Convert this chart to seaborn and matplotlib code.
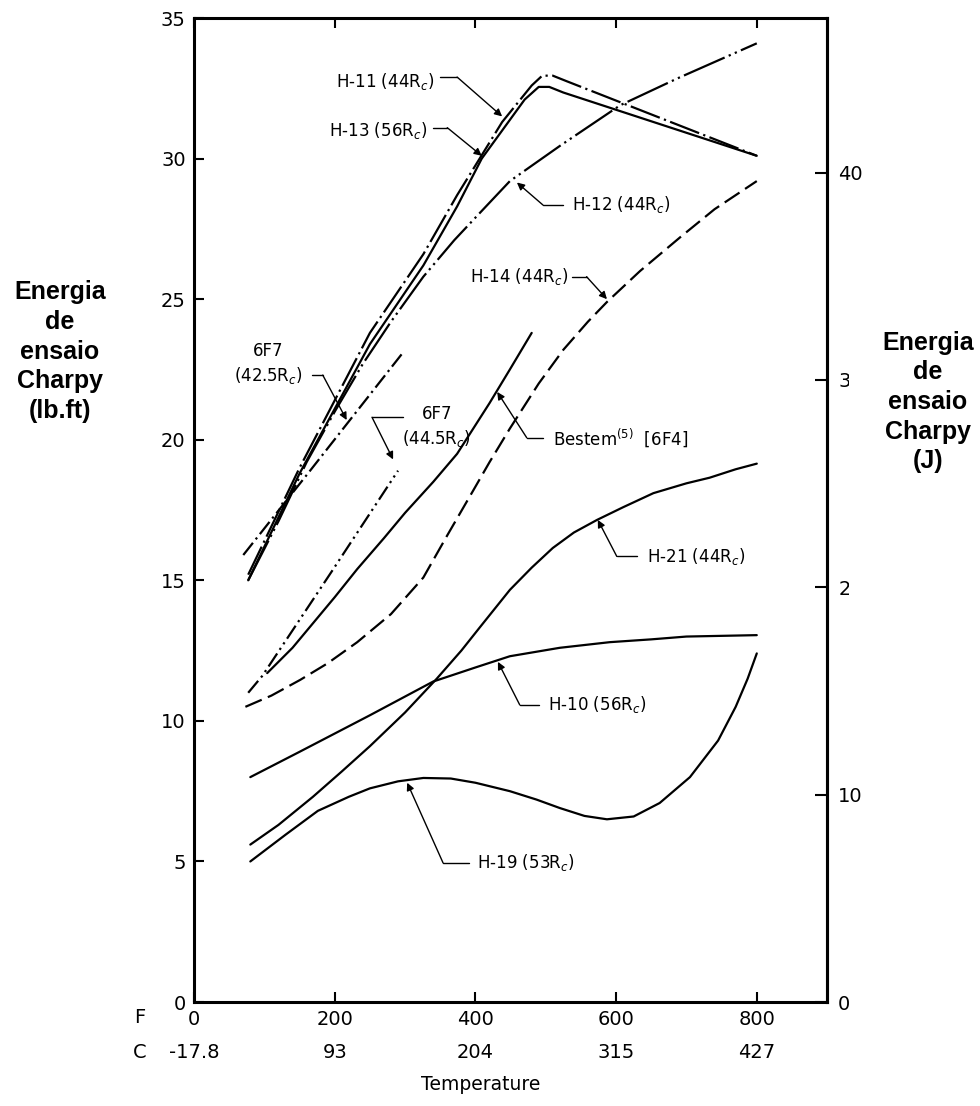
import pandas as pd
import numpy as np
import matplotlib
matplotlib.use("Agg")
import matplotlib.pyplot as plt
from matplotlib.patches import Rectangle
import seaborn as sns

# =============================================
# 1. Dados (temperatura em F, energia em lb.ft)
# =============================================
h11_f = [77, 150, 250, 326, 374, 438, 480, 495, 510, 530, 800]
h11_e = [15.2, 19.0, 23.8, 26.6, 28.7, 31.3, 32.6, 32.95, 32.95, 32.75, 30.1]

h13_f = [77, 150, 250, 326, 374, 409, 470, 490, 505, 525, 800]
h13_e = [15.0, 18.8, 23.4, 26.2, 28.3, 30.0, 32.1, 32.55, 32.55, 32.35, 30.1]

h12_f = [77, 120, 160, 200, 240, 280, 326, 370, 400, 449, 520, 606, 687, 800]
h12_e = [15.0, 17.1, 19.2, 21.0, 22.7, 24.2, 25.8, 27.1, 27.9, 29.2, 30.45, 31.9, 32.85, 34.1]

h14_f = [73, 110, 151, 190, 232, 280, 326, 360, 397, 420, 449, 490, 525, 560, 587, 634, 691, 740, 800]
h14_e = [10.5, 10.9, 11.46, 12.05, 12.8, 13.8, 15.1, 16.6, 18.2, 19.2, 20.4, 22.0, 23.2, 24.2,
         24.9, 26.0, 27.2, 28.2, 29.2]

f42_f = [70, 165, 297]
f42_e = [15.9, 18.9, 23.1]

f44_f = [77, 97, 198, 290]
f44_e = [11.0, 11.6, 15.4, 18.9]

bestem_f = [104, 140, 170, 200, 232, 270, 300, 340, 374, 397, 420, 449, 480]
bestem_e = [11.7, 12.6, 13.5, 14.4, 15.4, 16.5, 17.4, 18.5, 19.5, 20.4, 21.3, 22.5, 23.8]

h21_f = [80, 120, 169, 210, 250, 300, 345, 380, 407, 449, 480, 510, 540, 573, 610, 653, 700,
         733, 770, 800]
h21_e = [5.6, 6.3, 7.3, 8.2, 9.1, 10.3, 11.5, 12.5, 13.35, 14.66, 15.45, 16.15, 16.7, 17.15,
         17.6, 18.1, 18.45, 18.65, 18.95, 19.15]

h10_f = [80, 150, 250, 340, 400, 449, 520, 591, 650, 700, 800]
h10_e = [8.0, 8.9, 10.2, 11.4, 11.9, 12.3, 12.6, 12.8, 12.9, 13.0, 13.05]

h19_f = [80, 130, 176, 220, 250, 290, 326, 365, 400, 449, 487, 520, 555, 587, 625, 662, 705,
         745, 770, 787, 800]
h19_e = [5.0, 5.95, 6.8, 7.3, 7.6, 7.85, 7.97, 7.95, 7.8, 7.5, 7.2, 6.9, 6.62, 6.5, 6.6, 7.08,
         8.0, 9.3, 10.5, 11.5, 12.4]

f_ticks = [0, 200, 400, 600, 800]
c_labels = ["-17.8", "93", "204", "315", "427"]
e_ticks = [0, 5, 10, 15, 20, 25, 30, 35]
j_ticks = [0, 10, 20, 30, 40]

curvas = {
    "H-11": (h11_f, h11_e),
    "H-13": (h13_f, h13_e),
    "H-12": (h12_f, h12_e),
    "H-14": (h14_f, h14_e),
    "6F7-42.5": (f42_f, f42_e),
    "6F7-44.5": (f44_f, f44_e),
    "Bestem": (bestem_f, bestem_e),
    "H-21": (h21_f, h21_e),
    "H-10": (h10_f, h10_e),
    "H-19": (h19_f, h19_e),
}
estilos = {
    "H-11": (14, 2, 1, 2),
    "H-13": "",
    "H-12": (20, 2, 1, 2, 1, 2),
    "H-14": (8, 3),
    "6F7-42.5": (7, 2, 1, 2),
    "6F7-44.5": (7, 2, 1, 2, 1, 2),
    "Bestem": "",
    "H-21": "",
    "H-10": "",
    "H-19": "",
}

df = pd.concat(
    [pd.DataFrame({"curva": k, "F": f, "E": e}) for k, (f, e) in curvas.items()],
    ignore_index=True,
)

# rotulos com setas: (texto, x, y, alinhamento, caminho da seta)
rotulos = [
    ("H-11 (44R$_c$)", 342, 32.75, "right", [(350, 32.9), (374, 32.9), (438, 31.5)]),
    ("H-13 (56R$_c$)", 332, 31.0, "right", [(339, 31.1), (360, 31.1), (409, 30.1)]),
    ("H-12 (44R$_c$)", 537, 28.35, "left", [(524, 28.35), (496, 28.35), (459, 29.15)]),
    ("H-14 (44R$_c$)", 532, 25.8, "right", [(537, 25.8), (558, 25.8), (587, 25.0)]),
    ("6F7\n(42.5R$_c$)", 106, 22.7, "center", [(168, 22.3), (183, 22.3), (217, 20.7)]),
    ("6F7\n(44.5R$_c$)", 345, 20.45, "center", [(297, 20.8), (253, 20.8), (283, 19.3)]),
    ("Bestem$^{(5)}$  [6F4]", 510, 20.07, "left", [(496, 20.07), (473, 20.07), (431, 21.7)]),
    ("H-21 (44R$_c$)", 644, 15.85, "left", [(630, 15.85), (601, 15.85), (574, 17.15)]),
    ("H-10 (56R$_c$)", 503, 10.57, "left", [(490, 10.57), (463, 10.57), (432, 12.1)]),
    ("H-19 (53R$_c$)", 402, 4.95, "left", [(391, 4.95), (354, 4.95), (303, 7.8)]),
]

# =============================================
# 2. Grafico
# =============================================
sns.set_style("ticks")
plt.rcParams["font.family"] = ["DejaVu Sans"]
plt.rcParams["text.color"] = "black"
plt.rcParams["xtick.color"] = "black"
plt.rcParams["ytick.color"] = "black"
plt.rcParams["axes.edgecolor"] = "black"

fig = plt.figure(figsize=(9.8, 11.06), dpi=100)
ax = fig.add_axes([0.198, 0.094, 0.646, 0.8897])

sns.lineplot(
    data=df, x="F", y="E", hue="curva", style="curva",
    palette={k: "black" for k in curvas}, dashes=estilos,
    estimator=None, sort=False, legend=False, lw=1.6, ax=ax,
)

for texto, x, y, ha, caminho in rotulos:
    ax.text(x, y, texto, ha=ha, va="center", fontsize=12, linespacing=1.3)
    xs = [p[0] for p in caminho[:-1]]
    ys = [p[1] for p in caminho[:-1]]
    ax.plot(xs, ys, color="black", lw=1.0)
    ax.annotate(
        "", xy=caminho[-1], xytext=caminho[-2],
        arrowprops=dict(arrowstyle="-|>", color="black", lw=1.0,
                        mutation_scale=11, shrinkA=0, shrinkB=0),
    )

ax.set_xlim(0, 900)
ax.set_ylim(0, 35)
ax.set_xticks(f_ticks)
ax.set_xticklabels([str(f) for f in f_ticks])
ax.set_yticks(e_ticks)
ax.set_xlabel("")
ax.set_ylabel("")
ax.tick_params(axis="both", direction="in", length=7, width=1.5, labelsize=14, pad=6)
ax.tick_params(axis="x", top=True)
for s in ax.spines.values():
    s.set_linewidth(2.2)

# escala em Celsius abaixo da escala em F
for f, c in zip(f_ticks, c_labels):
    ax.text(f, -0.051, c, transform=ax.get_xaxis_transform(),
            ha="center", va="center", fontsize=14)

# eixo secundario em Joules
sec = ax.secondary_yaxis("right", functions=(lambda v: v * 1.3558, lambda v: v / 1.3558))
sec.set_yticks(j_ticks)
sec.tick_params(direction="in", length=9, width=1.5, labelsize=14, pad=8)
sec.spines["right"].set_linewidth(2.2)

fig.text(0.143, 0.0796, "F", fontsize=14, ha="center", va="center")
fig.text(0.143, 0.0488, "C", fontsize=14, ha="center", va="center")
fig.text(0.49, 0.019, "Temperature", fontsize=13.5, ha="center", va="center")

fig.patches.append(Rectangle((0.866, 0.4213), 0.134, 0.2622, transform=fig.transFigure,
                             facecolor="white", edgecolor="none", zorder=5))

fig.text(0.0612, 0.682, "Energia\nde\nensaio\nCharpy\n(lb.ft)", fontsize=18,
         fontweight="bold", ha="center", va="center", linespacing=1.3,
         family="Liberation Sans", zorder=6)
fig.text(0.947, 0.6365, "Energia\nde\nensaio\nCharpy\n(J)", fontsize=18,
         fontweight="bold", ha="center", va="center", linespacing=1.3,
         family="Liberation Sans", zorder=6)

fig.savefig("out.png", dpi=100, facecolor="white")
